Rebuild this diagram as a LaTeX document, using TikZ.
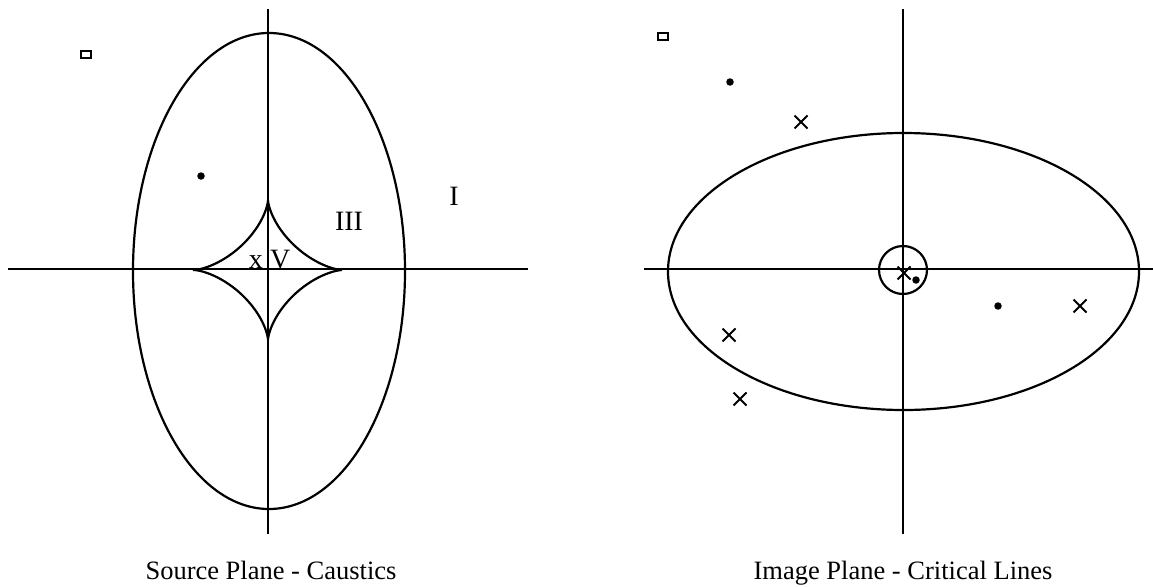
\documentclass[tikz,border=0pt]{standalone}
\usepackage{fontspec}
\setmainfont{Liberation Serif}
\usetikzlibrary{shapes.misc}
\begin{document}
\begin{tikzpicture}[
    x=1pt, y=-1pt, line width=2.2pt,
    dotmark/.style={circle, fill, inner sep=0pt, minimum size=7.5pt},
    sqmark/.style={rectangle, draw, inner sep=0pt, minimum width=10pt, minimum height=7pt, line width=2pt},
    xmark/.style={cross out, draw, inner sep=0pt, minimum size=11pt, line width=2pt},
    lbl/.style={anchor=base, inner sep=0pt, font=\fontsize{28}{30}\selectfont},
    caption/.style={anchor=base, inner sep=0pt, font=\fontsize{26.5}{30}\selectfont}
  ]
  \useasboundingbox (0,0) rectangle (1153,586);
  % source plane
  \draw (8,269) -- (528,269);
  \draw (268,9) -- (268,534);
  \draw (269,271) ellipse [x radius=136, y radius=238];
  \draw plot[domain=0:360, samples=240, smooth]
    ({268+74*cos(\x)*cos(\x)*cos(\x)}, {270+70*sin(\x)*sin(\x)*sin(\x)});
  \node[sqmark] (s1) at (86,55) {};
  \node[dotmark] (s2) at (201,176) {};
  \node[lbl, anchor=base east] (x) at (264,268) {x};
  \node[lbl, anchor=base west] (V) at (269,268) {V};
  \node[lbl] (III) at (349,230) {III};
  \node[lbl] (I) at (454,205) {I};
  \node[caption] (srccap) at (271,579) {Source Plane - Caustics};
  % image plane
  \draw (644,269) -- (1153,269);
  \draw (903,9) -- (903,534);
  \draw (903.5,271.5) ellipse [x radius=235.5, y radius=138.5];
  \draw (903,270) circle [radius=24];
  \node[sqmark] (i1) at (663,37) {};
  \node[dotmark] (i2) at (730,82) {};
  \node[xmark] (i3) at (801,122) {};
  \node[xmark] (i4) at (904,273) {};
  \node[dotmark] (i5) at (916,280) {};
  \node[dotmark] (i6) at (998,306) {};
  \node[xmark] (i7) at (1080,306) {};
  \node[xmark] (i8) at (729,335) {};
  \node[xmark] (i9) at (740,399) {};
  \node[caption] (imgcap) at (903,579) {Image Plane - Critical Lines};
\end{tikzpicture}
\end{document}
